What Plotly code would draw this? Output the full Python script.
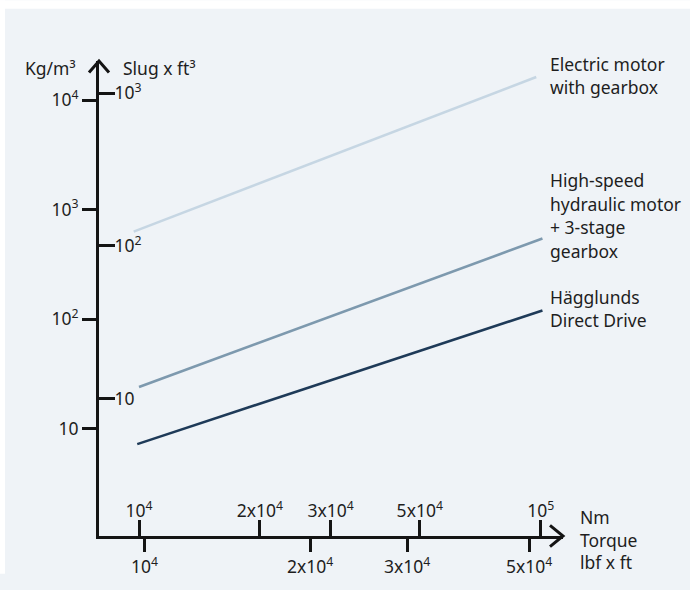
import plotly.graph_objects as go

# ---- data ----
electric_x = [9700, 97500]
electric_y = [630, 16300]
highspeed_x = [10000, 101000]
highspeed_y = [24, 545]
hagglunds_x = [9900, 101000]
hagglunds_y = [7.2, 120]

kg_ticks = [10, 100, 1000, 10000]
kg_text = ["10", "10<sup>2</sup>", "10<sup>3</sup>", "10<sup>4</sup>"]
slug_ticks = [10, 100, 1000]
slug_text = ["10", "10<sup>2</sup>", "10<sup>3</sup>"]
nm_ticks = [1e4, 2e4, 3e4, 5e4, 1e5]
nm_text = ["10<sup>4</sup>", "2x10<sup>4</sup>", "3x10<sup>4</sup>", "5x10<sup>4</sup>", "10<sup>5</sup>"]
lbf_ticks = [1e4, 2e4, 3e4, 5e4]
lbf_text = ["10<sup>4</sup>", "2x10<sup>4</sup>", "3x10<sup>4</sup>", "5x10<sup>4</sup>"]

series_names = ["Electric motor with gearbox", "High-speed hydraulic motor + 3-stage gearbox", "Hägglunds Direct Drive"]
label_lines = [["Electric motor", "with gearbox"],
               ["High-speed", "hydraulic motor", "+ 3-stage", "gearbox"],
               ["Hägglunds", "Direct Drive"]]
colors = ["#c6d6e3", "#7d99ae", "#1e3a58"]

FONT = "Noto Sans"
TXT = "#1e1e1e"
AX = "#141414"
BG = "#eff3f7"
FS = 17.5

W, H = 690, 590
L, R, T, B = 99, 127, 61, 37
PW, PH = W - L - R, H - T - B

def px(xp):
    return (xp - L) / PW

def py(yp):
    return (H - B - yp) / PH

fig = go.Figure()
for xs, ys, c, n in zip([electric_x, highspeed_x, hagglunds_x],
                        [electric_y, highspeed_y, hagglunds_y], colors, series_names):
    fig.add_trace(go.Scatter(x=xs, y=ys, mode="lines", name=n,
                             line=dict(color=c, width=2.6), showlegend=False,
                             hoverinfo="skip"))
fig.add_trace(go.Scatter(x=[], y=[], xaxis="x2", yaxis="y2", showlegend=False))

tickfont = dict(family=FONT, size=FS, color=TXT)

fig.update_layout(
    width=W, height=H,
    margin=dict(l=L, r=R, t=T, b=B),
    paper_bgcolor=BG,
    plot_bgcolor="rgba(0,0,0,0)",
    showlegend=False,
    xaxis=dict(type="log", range=[3.9004, 5.0555], showgrid=False, zeroline=False,
               showline=True, linecolor=AX, linewidth=3,
               ticks="inside", ticklen=16, tickwidth=2.5, tickcolor=AX,
               ticklabelposition="inside", tickvals=nm_ticks, ticktext=nm_text,
               tickfont=tickfont, anchor="y"),
    xaxis2=dict(type="log", range=[3.9175, 4.7604], overlaying="x", anchor="y",
                side="bottom", showgrid=False, zeroline=False, showline=False,
                ticks="outside", ticklen=15, tickwidth=2.5, tickcolor=AX,
                tickvals=lbf_ticks, ticktext=lbf_text, tickfont=tickfont),
    yaxis=dict(type="log", range=[0.0178, 4.359], showgrid=False, zeroline=False,
               showline=True, linecolor=AX, linewidth=3,
               ticks="outside", ticklen=14, tickwidth=2.5, tickcolor=AX,
               tickvals=kg_ticks, ticktext=kg_text, tickfont=tickfont, anchor="x"),
    yaxis2=dict(type="log", range=[0.1024, 3.2104], overlaying="y", anchor="x",
                side="left", showgrid=False, zeroline=False, showline=False,
                ticks="inside", ticklen=16, tickwidth=2.5, tickcolor=AX,
                ticklabelposition="inside", tickvals=slug_ticks, ticktext=slug_text,
                tickfont=tickfont),
)

shapes = [
    # white frame strips on left and top of the panel
    dict(type="rect", xref="paper", yref="paper", x0=px(-2), x1=px(5), y0=py(H + 2), y1=py(-2),
         fillcolor="white", line=dict(width=0), layer="below"),
    dict(type="rect", xref="paper", yref="paper", x0=px(-2), x1=px(W + 2), y0=py(7), y1=py(-2),
         fillcolor="white", line=dict(width=0), layer="below"),
    dict(type="path", xref="paper", yref="paper",
         path=f"M {px(89)},{py(73)} L {px(99)},{py(61)} L {px(109)},{py(73)}",
         line=dict(color=AX, width=3)),
    dict(type="path", xref="paper", yref="paper",
         path=f"M {px(550)},{py(542)} L {px(563)},{py(553)} L {px(550)},{py(564)}",
         line=dict(color=AX, width=3)),
]
fig.update_layout(shapes=shapes)

ann = []
def add_text(t, xp, yp, anchor="left"):
    ann.append(dict(text=t, xref="paper", yref="paper", x=px(xp), y=py(yp),
                    xanchor=anchor, yanchor="middle", showarrow=False,
                    font=dict(family=FONT, size=FS, color=TXT)))

add_text("Kg/m³", 78, 68, "right")
add_text("Slug x ft³", 121, 68, "left")
add_text("Nm", 578, 533)
add_text("Torque", 578, 557)
add_text("lbf x ft", 578, 580)

label_y = [[64.3, 88.3], [184.3, 209, 233.3, 257.3], [305, 329.3]]
for lines, ys in zip(label_lines, label_y):
    for t, yv in zip(lines, ys):
        add_text(t, 548, yv)

fig.update_layout(annotations=ann)

post = (
    "document.documentElement.style.margin='0px';document.body.style.margin='0px';"
    "document.body.style.padding='0px';"
    "document.documentElement.style.overflow='hidden';document.body.style.overflow='hidden';"
)
fig.write_html("out.html", config={"displayModeBar": False}, post_script=post)
